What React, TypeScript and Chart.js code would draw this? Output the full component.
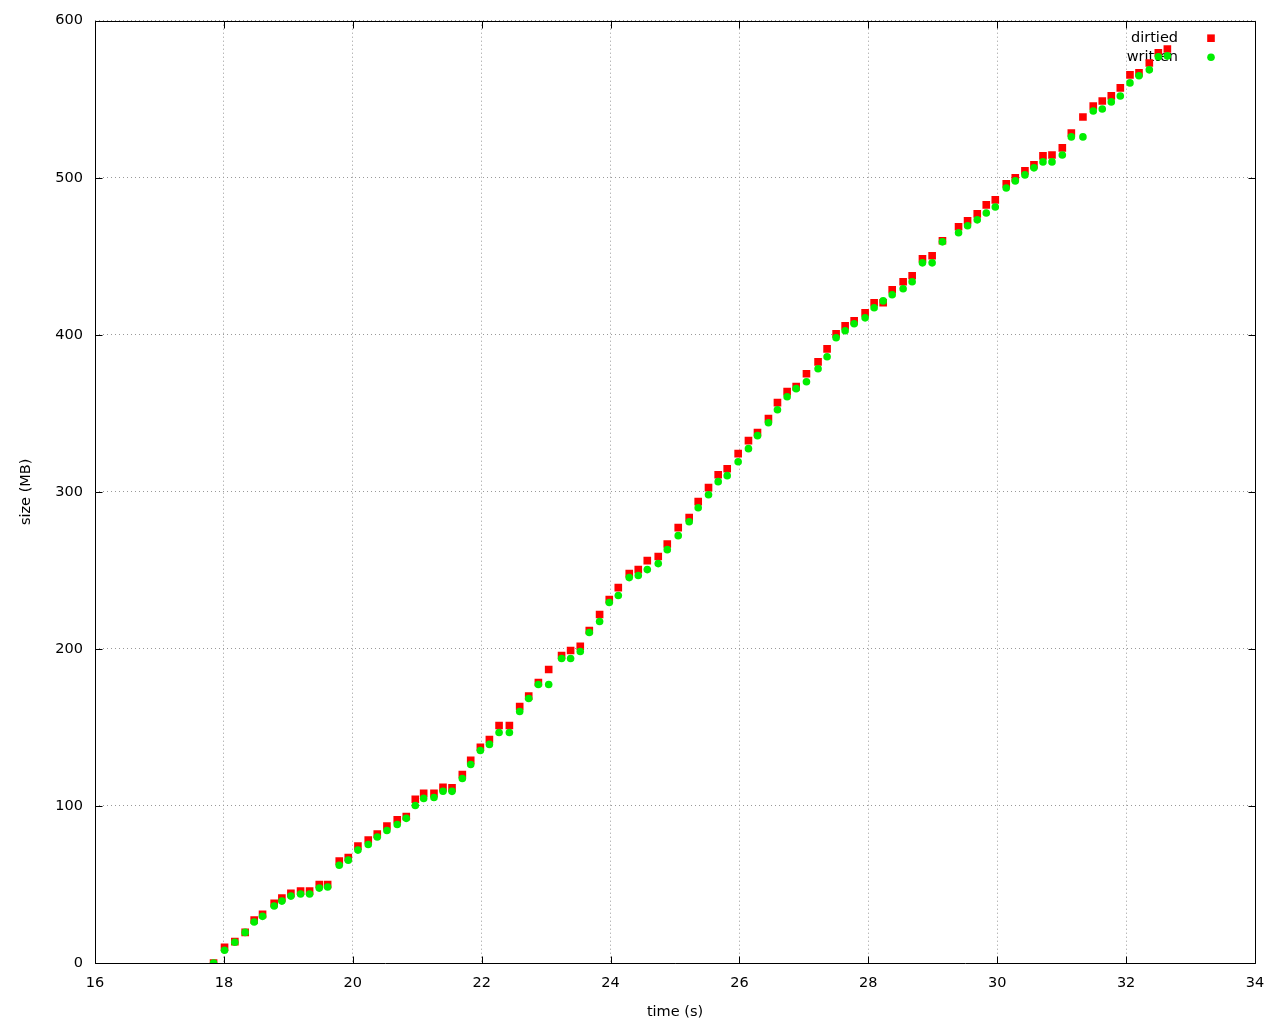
import { useEffect, useRef } from 'react';
import { Chart, registerables } from 'chart.js';

Chart.register(...registerables);

// time (s) of each sample
const timeSec = [
  17.84, 18.01, 18.17, 18.33, 18.47, 18.60, 18.78, 18.90, 19.04, 19.19,
  19.33, 19.48, 19.61, 19.79, 19.93, 20.08, 20.24, 20.38, 20.53, 20.69,
  20.83, 20.97, 21.10, 21.26, 21.40, 21.54, 21.70, 21.83, 21.98, 22.12,
  22.27, 22.43, 22.59, 22.73, 22.88, 23.04, 23.24, 23.38, 23.53, 23.67,
  23.83, 23.98, 24.12, 24.29, 24.43, 24.57, 24.74, 24.88, 25.05, 25.22,
  25.36, 25.52, 25.67, 25.81, 25.98, 26.14, 26.28, 26.45, 26.59, 26.74,
  26.88, 27.04, 27.22, 27.36, 27.50, 27.64, 27.78, 27.95, 28.09, 28.23,
  28.37, 28.54, 28.68, 28.84, 28.99, 29.15, 29.40, 29.54, 29.69, 29.83,
  29.97, 30.14, 30.28, 30.43, 30.57, 30.71, 30.85, 31.01, 31.15, 31.33,
  31.49, 31.63, 31.77, 31.91, 32.06, 32.20, 32.36, 32.50, 32.64,
];

// size (MB) dirtied
const dirtiedMB = [
  0, 10.0, 13.6, 19.5, 27.4, 31.0, 38.0, 41.4, 44.3, 45.8,
  45.8, 50.0, 50.0, 64.9, 67.2, 74.4, 78.3, 82.1, 87.2, 91.2,
  93.3, 104.3, 108.0, 108.0, 111.8, 111.5, 120.0, 129.0, 137.4, 142.3,
  151.2, 151.2, 163.3, 169.9, 178.6, 186.9, 195.8, 199.0, 201.7, 211.7,
  221.9, 231.4, 239.0, 247.9, 250.5, 256.2, 258.8, 266.8, 277.2, 283.6,
  293.8, 302.7, 310.9, 314.7, 324.3, 332.6, 337.7, 346.6, 356.8, 363.8,
  367.0, 375.2, 382.8, 391.0, 400.6, 405.7, 408.9, 414.0, 420.4, 420.4,
  428.7, 433.8, 437.6, 448.4, 450.3, 459.9, 468.8, 472.6, 477.0, 482.7,
  485.9, 496.1, 499.9, 504.4, 508.2, 513.9, 514.5, 519.0, 528.5, 538.7,
  545.7, 548.9, 552.1, 557.2, 565.5, 566.8, 573.1, 579.5, 582.0,
];

// size (MB) written
const writtenMB = [
  0, 8.1, 13.2, 19.5, 26.1, 29.7, 36.3, 39.4, 42.6, 43.9,
  43.9, 47.7, 48.4, 62.2, 65.5, 71.9, 75.5, 80.2, 84.4, 88.2,
  92.1, 100.3, 104.8, 105.4, 109.4, 109.3, 117.5, 126.4, 135.3, 139.2,
  146.8, 146.8, 160.1, 168.4, 177.3, 177.3, 193.9, 193.9, 198.3, 210.4,
  217.4, 229.5, 234.0, 245.4, 246.7, 250.5, 254.3, 263.2, 272.1, 281.0,
  289.9, 298.2, 306.5, 310.3, 319.2, 327.5, 335.8, 344.0, 352.3, 360.6,
  365.7, 370.1, 378.4, 386.0, 398.1, 402.6, 407.0, 410.8, 417.2, 421.6,
  425.5, 429.3, 433.8, 445.8, 445.8, 459.2, 465.0, 469.4, 473.2, 477.6,
  481.4, 493.5, 498.0, 501.8, 506.3, 510.1, 510.1, 514.5, 526.0, 526.0,
  542.5, 543.8, 548.3, 552.1, 560.4, 564.9, 568.7, 577.0, 577.6,
];

const seriesLabels = ['dirtied', 'written'];
const xRange = [16, 34];
const yRange = [0, 600];
const xStep = 2;
const yStep = 100;

const FONT_FAMILY = "'DejaVu Sans', sans-serif";
const FONT_SIZE = 14.5;
const RED = '#ff0000';
const GREEN = '#00ee00';

export default function App() {
  const ref = useRef<HTMLCanvasElement | null>(null);

  useEffect(() => {
    if (!ref.current) return;

    const framePlugin = {
      id: 'gnuplotFrame',
      beforeDatasetsDraw(chart: any) {
        const { ctx, chartArea } = chart;
        const xs = chart.scales.x;
        const ys = chart.scales.y;
        const L = Math.round(chartArea.left) + 0.5;
        const R = Math.round(chartArea.right) + 0.5;
        const T = Math.round(chartArea.top) + 0.5;
        const B = Math.round(chartArea.bottom) + 0.5;
        const tl = 7;
        ctx.save();
        ctx.strokeStyle = '#000';
        ctx.lineWidth = 1;
        ctx.setLineDash([]);
        ctx.beginPath();
        ctx.rect(L, T, R - L, B - T);
        // inward ticks
        xs.ticks.forEach((t: any) => {
          const px = Math.round(xs.getPixelForValue(t.value)) + 0.5;
          ctx.moveTo(px, B);
          ctx.lineTo(px, B - tl);
          ctx.moveTo(px, T);
          ctx.lineTo(px, T + tl);
        });
        ys.ticks.forEach((t: any) => {
          const py = Math.round(ys.getPixelForValue(t.value)) + 0.5;
          ctx.moveTo(L, py);
          ctx.lineTo(L + tl, py);
          ctx.moveTo(R, py);
          ctx.lineTo(R - tl, py);
        });
        ctx.stroke();

        // key (gnuplot style: text right-aligned, sample to the right)
        ctx.font = `${FONT_SIZE}px ${FONT_FAMILY}`;
        ctx.fillStyle = '#000';
        ctx.textAlign = 'right';
        ctx.textBaseline = 'middle';
        const textRight = chartArea.right - 77;
        const sampleX = chartArea.right - 44;
        const rows = [chartArea.top + 17.5, chartArea.top + 36.5];
        ctx.fillText(seriesLabels[0], textRight, rows[0]);
        ctx.fillText(seriesLabels[1], textRight, rows[1]);
        ctx.fillStyle = RED;
        const s = 7.6;
        ctx.fillRect(sampleX - s / 2, rows[0] - s / 2, s, s);
        ctx.fillStyle = GREEN;
        ctx.beginPath();
        ctx.arc(sampleX, rows[1], 3.8, 0, Math.PI * 2);
        ctx.fill();
        ctx.restore();
      },
    };

    const tickFont = { family: FONT_FAMILY, size: FONT_SIZE };

    const chart = new Chart(ref.current, {
      type: 'scatter',
      data: {
        datasets: [
          {
            label: seriesLabels[0],
            data: timeSec.map((t, i) => ({ x: t, y: dirtiedMB[i] })),
            pointStyle: 'rect',
            pointRadius: 5.4,
            pointBackgroundColor: RED,
            backgroundColor: RED,
            borderWidth: 0,
            pointBorderWidth: 0,
            order: 1,
          },
          {
            label: seriesLabels[1],
            data: timeSec.map((t, i) => ({ x: t, y: writtenMB[i] })),
            pointStyle: 'circle',
            pointRadius: 3.8,
            pointBackgroundColor: GREEN,
            backgroundColor: GREEN,
            borderWidth: 0,
            pointBorderWidth: 0,
            order: 0,
          },
        ],
      },
      options: {
        responsive: false,
        animation: false,
        devicePixelRatio: 1,
        events: [],
        layout: { padding: { top: 20, right: 25, left: 0, bottom: 0 } },
        plugins: {
          legend: { display: false },
          tooltip: { enabled: false },
        },
        scales: {
          x: {
            type: 'linear',
            position: 'bottom',
            min: xRange[0],
            max: xRange[1],
            ticks: {
              stepSize: xStep,
              padding: 12,
              color: '#000',
              font: tickFont,
              autoSkip: false,
              maxRotation: 0,
            },
            grid: { drawTicks: false, color: '#999999', lineWidth: 1 },
            border: { display: false, dash: [1, 3] },
            title: {
              display: true,
              text: 'time (s)',
              color: '#000',
              font: tickFont,
              padding: { top: 0, bottom: 3 },
            },
            afterFit: (s: any) => {
              s.height = 61;
            },
          },
          y: {
            type: 'linear',
            min: yRange[0],
            max: yRange[1],
            ticks: {
              stepSize: yStep,
              padding: 12,
              color: '#000',
              font: tickFont,
            },
            grid: { drawTicks: false, color: '#999999', lineWidth: 1 },
            border: { display: false, dash: [1, 3] },
            title: {
              display: true,
              text: 'size (MB)',
              color: '#000',
              font: tickFont,
              padding: { top: 18, bottom: 0 },
            },
            afterFit: (s: any) => {
              s.width = 95;
            },
          },
        },
      } as any,
      plugins: [framePlugin],
    });

    return () => chart.destroy();
  }, []);

  return (
    <div style={{ position: 'absolute', left: 0, top: 0, width: 1280, height: 1024, background: '#fff' }}>
      <canvas ref={ref} width={1280} height={1024} style={{ display: 'block' }} />
    </div>
  );
}
